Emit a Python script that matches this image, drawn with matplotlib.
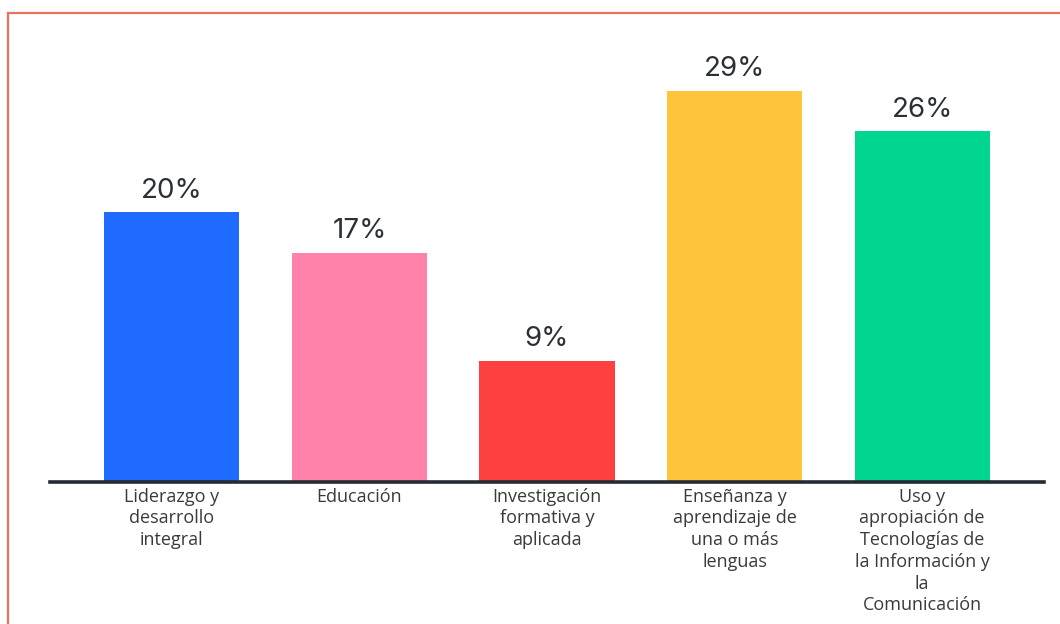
import matplotlib
matplotlib.use("Agg")
import matplotlib.pyplot as plt
from matplotlib.lines import Line2D

categories = [
    "Liderazgo y\ndesarrollo\nintegral",
    "Educación",
    "Investigación\nformativa y\naplicada",
    "Enseñanza y\naprendizaje de\nuna o más\nlenguas",
    "Uso y\napropiación de\nTecnologías de\nla Información y\nla\nComunicación",
]
values = [20, 17, 9, 29, 26]
colors = ["#1F6BFF", "#FF82AB", "#FF4040", "#FFC53A", "#00D68F"]

W, H = 1060, 624
fig = plt.figure(figsize=(W / 100, H / 100), dpi=100)
fig.patch.set_facecolor("white")

ax = fig.add_axes([50 / W, 142 / H, (1044 - 50) / W, (482 - 30) / H])
x = list(range(len(values)))
ax.bar(x, values, width=0.72, color=colors, zorder=2)
ax.set_xlim(-0.65, 4.65)
ax.set_ylim(0, 452 / 13.5)

for xi, v in zip(x, values):
    ax.annotate(f"{v}%", (xi, v), xytext=(0, 6), textcoords="offset points",
                ha="center", va="bottom", fontsize=20, color="#2B2F36",
                family="Inter")

for s in ["top", "right", "left"]:
    ax.spines[s].set_visible(False)
ax.spines["bottom"].set_linewidth(2.6)
ax.spines["bottom"].set_color("#252A33")
ax.spines["bottom"].set_zorder(3)
ax.set_yticks([])
ax.set_xticks(x)
ax.set_xticklabels(categories, fontsize=13, color="#3A3A3A", family="Open Sans",
                   linespacing=1.27, va="top")
ax.tick_params(axis="x", length=0, pad=4)

# thin frame along the top and left edges
fig.add_artist(Line2D([8 / W, 1.0], [1 - 13 / H, 1 - 13 / H],
                      transform=fig.transFigure, color="#E8735A", lw=1.6))
fig.add_artist(Line2D([8 / W, 8 / W], [0, 1 - 13 / H],
                      transform=fig.transFigure, color="#E8735A", lw=1.6))

fig.savefig("out.png", dpi=100, facecolor="white")
